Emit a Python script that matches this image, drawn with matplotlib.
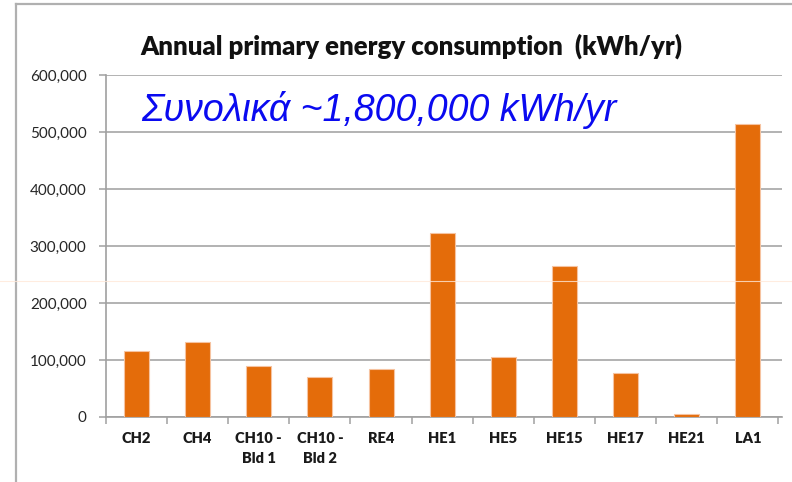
import matplotlib
matplotlib.use("Agg")
import matplotlib.pyplot as plt
from matplotlib.lines import Line2D
from matplotlib.ticker import FuncFormatter, FixedLocator
import numpy as np

categories = ["CH2", "CH4", "CH10 -\nBld 1", "CH10 -\nBld 2", "RE4", "HE1", "HE5",
              "HE15", "HE17", "HE21", "LA1"]
values = [115000, 131000, 89000, 70000, 84000, 322000, 105000, 265000, 77000, 5000, 514000]
y_ticks = [0, 100000, 200000, 300000, 400000, 500000, 600000]
title = "Annual primary energy consumption  (kWh/yr)"
note = "Συνολικά ~1,800,000 kWh/yr"

W, H = 792, 482
fig = plt.figure(figsize=(W / 100, H / 100), dpi=100)
ax = fig.add_axes([106 / W, 1 - 417 / H, (782 - 106) / W, (417 - 75) / H])

x = np.arange(len(categories))
ax.bar(x, values, width=0.41, color="#E46C0A", edgecolor="#F6C3A0", linewidth=0.8, zorder=3)

ax.set_xlim(-0.5, 10.56)
ax.set_ylim(0, 600000)
ax.set_yticks(y_ticks)
ax.yaxis.set_major_formatter(FuncFormatter(lambda v, p: f"{int(v):,}"))
ax.grid(axis="y", color="#A6A6A6", linewidth=1.2, zorder=0)
ax.set_axisbelow(True)

ax.set_xticks(x)
ax.set_xticklabels(categories, fontfamily="Lato", fontweight="heavy", fontsize=10.5,
                   color="#1A1A1A", linespacing=1.6)
ax.xaxis.set_minor_locator(FixedLocator(np.arange(-0.5, 11, 1.0)))
ax.tick_params(axis="x", which="major", length=0, pad=11)
ax.tick_params(axis="x", which="minor", length=5, color="#A0A0A0", width=1.1)
ax.tick_params(axis="y", length=5, color="#A0A0A0", width=1.1, pad=9,
               labelsize=11, labelcolor="#262626")
for lab in ax.get_yticklabels():
    lab.set_fontfamily("Lato")

for s in ["top", "right"]:
    ax.spines[s].set_visible(False)
for s in ["left", "bottom"]:
    ax.spines[s].set_color("#A0A0A0")
    ax.spines[s].set_linewidth(1.2)

fig.text(411 / W, 1 - 46 / H, title, ha="center", va="center", fontfamily="Lato",
         fontweight="heavy", fontsize=18.5, color="#111111")
fig.text(141 / W, 1 - 110 / H, note, ha="left", va="center", fontfamily="Liberation Sans",
         fontstyle="italic", fontsize=27, color="#0A0AF0")

# outer frame
fig.add_artist(Line2D([16 / W, 1], [1 - 4 / H, 1 - 4 / H], color="#B0B0B0", linewidth=1.6))
fig.add_artist(Line2D([16 / W, 16 / W], [0, 1 - 4 / H], color="#B0B0B0", linewidth=1.6))
# faint light seam across the image
fig.add_artist(Line2D([0, 1], [1 - 281 / H, 1 - 281 / H], color="#FFE8D8", linewidth=0.8, alpha=0.8, zorder=10))

fig.savefig("out.png", dpi=100)
